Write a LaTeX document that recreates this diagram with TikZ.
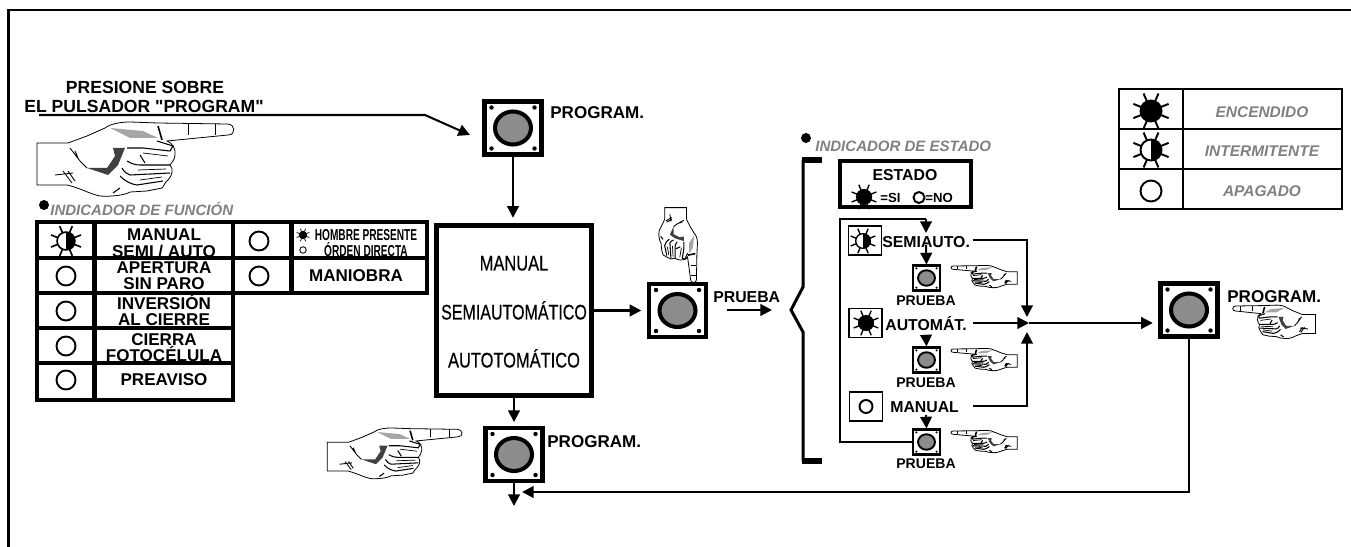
\documentclass[tikz,border=0pt]{standalone}
\usepackage{xcolor}
\usepackage{fontspec}
\setmainfont{Liberation Sans}[Ligatures=TeXOff]
\newfontfamily\modofont{Liberation Sans}[FakeBold=0.5]
\usetikzlibrary{arrows.meta}

\definecolor{grisindicador}{HTML}{808080}
\definecolor{grisboton}{HTML}{8C8C8C}

\tikzset{
  rotulo/.style={inner sep=0pt,text height=6.6pt,text depth=0pt,font=\fontsize{9.7}{10}\selectfont\bfseries},
  titulo/.style={rotulo,font=\fontsize{10}{11}\selectfont\bfseries},
  chico/.style={rotulo,font=\fontsize{8}{9}\selectfont\bfseries},
  medio/.style={rotulo,font=\fontsize{9}{10}\selectfont\bfseries},
  mini/.style={rotulo,font=\fontsize{7.5}{8}\selectfont\bfseries,text height=5pt},
  modo/.style={inner sep=0pt,text height=8.5pt,text depth=0pt,font=\fontsize{12}{13}\modofont},
  gris/.style={inner sep=0pt,text height=6.2pt,text depth=0pt,text=grisindicador,font=\fontsize{8.8}{10}\selectfont\bfseries\itshape},
  grisind/.style={gris,font=\fontsize{8.55}{10}\selectfont\bfseries\itshape},
  apagado/.style={circle,draw,line width=1.1pt,inner sep=0pt,minimum size=0.38cm},
  punto/.style={circle,fill=black,inner sep=0pt,minimum size=0.2cm},
  icono/.style={draw,line width=0.6pt,inner sep=0pt,minimum width=0.66cm,minimum height=0.58cm},
  flecha/.style={line width=1.15pt,-{Triangle[width=6.6pt,length=6.6pt]}},
  linea/.style={line width=1.15pt},
  tabla/.style={line width=2.3pt},
  pics/boton/.style n args={2}{code={
    \node[draw,line width=#2,fill=white,inner sep=0pt,minimum width=#1*1.14cm,minimum height=#1*1.06cm] (-caja) {};
    \draw[line width=#1*2.3pt,fill=grisboton] (0,0) ellipse ({#1*18} and {#1*16.5});
    \foreach \sx in {-1,1} \foreach \sy in {-1,1}
      \fill ({\sx*#1*21.5},{\sy*#1*20.5}) circle ({#1*1.9+0.3});
  }},
  pics/foco/.style n args={2}{code={
    \foreach \ang in {22,67,113,158,202,247,293,338}
      \draw[line width=#1*1.1pt] ({\ang}:{#1*10}) -- ({\ang}:{#1*19});
    \draw[line width=#1*1.1pt,fill=white] (0,0) circle ({#1*10.5});
    \fill (0,{#1*10.5}) arc (90:#2:{#1*10.5}) -- cycle;
  }},
  pics/mano/.style={code={
    \draw[line width=0.45pt,fill=white] (-1,-1) -- (30,-1) -- (49,-8) -- (67,-16)
      .. controls (72,-20) and (82,-22) .. (92,-22) -- (120,-21) -- (189,-20)
      .. controls (198,-20) and (198,-9) .. (190,-9) -- (129,-3)
      .. controls (135,-1) and (138,6) .. (137,11) .. controls (137,16) and (133,19) .. (132,21)
      .. controls (136,25) and (134,32) .. (130,36) .. controls (127,38) and (126,42) .. (124,44)
      -- (109,47) -- (92,48) .. controls (88,51) and (72,53) .. (62,52)
      .. controls (52,50) and (42,44) .. (29,41) -- (-1,41) -- cycle;
    \fill[gray!70] (72,-16) -- (105,-13) -- (120,-6) -- (92,-6) -- cycle;
    \fill[black!75] (75,4) -- (87,4) -- (80,21) -- (70,31) -- (49,24) -- (69,24) -- (77,12) -- cycle;
    \draw[line width=0.35pt] (150,-20) -- (150,-9) (177,-20) -- (177,-9);
    \draw[line width=0.9pt] (120,-18) -- (124,-4);
    \draw[line width=0.6pt] (119,-3) -- (135,2) -- (132,7) -- (105,4) -- (89,4);
    \draw[line width=0.6pt] (89,17) .. controls (94,20) and (98,21) .. (102,21) -- (132,21)
      (84,24) .. controls (86,28) and (89,30) .. (92,31) -- (132,29)
      (82,32) .. controls (88,38) and (93,40) .. (99,41) -- (125,37)
      (102,11) -- (107,19) (75,49) -- (82,44);
    \draw[line width=0.4pt] (105,9) -- (130,12) (100,26) -- (128,25) (102,36) -- (124,33);
    \draw[line width=0.5pt] (32,4) -- (42,17) -- (49,24) (37,7) -- (40,14)
      (17,31) -- (35,29) (25,27) -- (34,39) (30,27) -- (37,37);
  }}
}

\begin{document}
\begin{tikzpicture}[x=0.02cm,y=-0.02cm]
  \useasboundingbox (0,0) rectangle (1351,547);

  % marco
  \draw[line width=1.7pt] (1351,10) -- (8.5,10) -- (8.5,547);

  % pulsador principal
  \node[titulo] (presione) at (145,88) {PRESIONE SOBRE};
  \node[titulo] (pulsador) at (144,107) {EL PULSADOR "PROGRAM"};
  \pic at (38,144) {mano};
  \pic (prog1) at (513,128) {boton={1}{2.8pt}};
  \pic (prog3) at (514,454.5) {boton={1}{2.8pt}};
  \pic (prob1) at (677.5,310.5) {boton={1}{2.8pt}};
  \pic (prog4) at (1189,310) {boton={1}{2.8pt}};
  \node[rotulo,anchor=west] (progtxt1) at (550,113) {PROGRAM.};
  \node[rotulo,anchor=west] (progtxt3) at (547,442) {PROGRAM.};
  \node[rotulo,anchor=west] (progtxt4) at (1227,297) {PROGRAM.};
  \node[medio,anchor=west] (probtxt1) at (713,297) {PRUEBA};
  \pic[scale=0.684] at (328,443) {mano};
  \pic[rotate=-90,xscale=0.38,yscale=0.52] at (686,208) {mano};
  \pic[xscale=-0.42,yscale=0.45] at (1315,315) {mano};

  \coordinate (inicio) at (39,115);
  \coordinate (codo) at (425,115);
  \coordinate (destino) at (470,135);
  \draw[flecha] (inicio) -- (codo) -- (destino);

  % indicador de funcion
  \node[punto] (puntofun) at (44,205) {};
  \node[grisind,anchor=west] (indfun) at (50,210) {INDICADOR DE FUNCIÓN};
  \node[rotulo] (semi1) at (164,235) {MANUAL};
  \node[rotulo] (semi2) at (164,252) {SEMI / AUTO};
  \node[rotulo] (aper1) at (164,268) {APERTURA};
  \node[rotulo] (aper2) at (164,284) {SIN PARO};
  \node[rotulo] (inve1) at (164,304) {INVERSIÓN};
  \node[rotulo] (inve2) at (164,320) {AL CIERRE};
  \node[rotulo] (foto1) at (164,340) {CIERRA};
  \node[rotulo] (foto2) at (164,356) {FOTOCÉLULA};
  \node[rotulo] (prea) at (164,380) {PREAVISO};
  \node[rotulo] (maniobra) at (356,276) {MANIOBRA};
  \node[medio] (hombre) at (366,235) {\scalebox{0.64}[1]{HOMBRE PRESENTE}};
  \node[medio] (orden) at (366,251) {\scalebox{0.64}[1]{ÓRDEN DIRECTA}};
  \draw[tabla] (37,222) rectangle (233,400);
  \draw[tabla] (233,222) rectangle (427,293);
  \draw[tabla] (94.5,222) -- (94.5,400) (291.5,222) -- (291.5,293);
  \draw[tabla] (37,258) -- (427,258) (37,293) -- (427,293);
  \draw[tabla] (37,328) -- (233,328) (37,363) -- (233,363);
  \pic at (66,241) {foco={0.85}{-90}};
  \foreach \fila/\alto in {a/276,b/311,c/346,d/380}
    \node[apagado] (fun\fila) at (66,\alto) {};
  \node[apagado] (fune) at (259,241) {};
  \node[apagado] (funf) at (259,276) {};
  \pic at (303,235) {foco={0.36}{-270}};
  \node[apagado,line width=0.5pt,minimum size=0.13cm] (fung) at (303,250) {};

  % modos
  \node[draw,line width=2.8pt,minimum width=3.1cm,minimum height=3.4cm,inner sep=0pt] (modos) at (514,310.5) {};
  \node[modo] (modoman) at (514,263) {\scalebox{0.78}[1]{MANUAL}};
  \node[modo] (modosemi) at (514,312) {\scalebox{0.76}[1]{SEMIAUTOMÁTICO}};
  \node[modo] (modoauto) at (514,360) {\scalebox{0.78}[1]{AUTOTOMÁTICO}};

  \draw[flecha,shorten >=3pt] (prog1-caja.south) -- (prog1-caja.south |- modos.north);
  \draw[flecha,shorten >=2pt] (modos.south) -- (prog3-caja.north);
  \draw[flecha,shorten >=3pt] (modos.east |- prob1-caja.center) -- (prob1-caja.west);
  \coordinate (salidaprog) at (514,506);
  \draw[flecha] (prog3-caja.south) -- (salidaprog);
  \coordinate (prueba1) at (727,310);
  \coordinate (prueba2) at (772,310);
  \draw[flecha] (prueba1) -- (prueba2);
  \coordinate (retorno) at (522,492);
  \draw[flecha] (prog4-caja.south) |- (retorno);

  % llave
  \draw[line width=1.7pt] (803,160) -- (803,287) -- (791,310) -- (803,332) -- (803,461);
  \draw[line width=3.2pt] (802,160) -- (822,160) (802,461) -- (822,461);

  % indicador de estado
  \node[punto] (puntoest) at (806,138) {};
  \node[grisind,anchor=west] (indest) at (815,146) {INDICADOR DE ESTADO};
  \node[draw,line width=2.3pt,minimum width=2.62cm,minimum height=0.92cm,inner sep=0pt] (estado) at (905.5,184) {};
  \node[medio] (estadotxt) at (905,175) {ESTADO};
  \pic at (864,197) {foco={0.7}{-270}};
  \node[mini,anchor=west] (si) at (880,198) {=SI};
  \node[apagado,minimum size=0.22cm] (no) at (919,197.5) {};
  \node[mini,anchor=west] (notxt) at (925,198) {=NO};

  % pasos de estado
  \node[icono] (icosemi) at (865,240.5) {};
  \node[icono] (icoauto) at (865.5,323) {};
  \node[icono] (icoman) at (866,406.5) {};
  \pic at (863,241) {foco={0.7}{-90}};
  \pic at (866,323) {foco={0.7}{-270}};
  \node[apagado,minimum size=0.26cm] (offman) at (866,406.5) {};
  \pic (prob2) at (926.5,278) {boton={0.47}{1.3pt}};
  \pic (prob3) at (926.5,360) {boton={0.47}{1.3pt}};
  \pic (prob4) at (926.5,442) {boton={0.47}{1.3pt}};
  \foreach \fila/\alto in {2/300,3/382,4/463}
    \node[chico] (probtxt\fila) at (926,\alto) {PRUEBA};
  \foreach \alto in {272,355,437}
    \pic[xscale=-0.337,yscale=0.3] at (1017,\alto) {mano};

  \node[medio,anchor=west] (semitxt) at (882,242) {SEMIAUTO.};
  \node[medio,anchor=west] (autotxt) at (885,325) {AUTOMÁT.};
  \node[medio,anchor=west] (mantxt) at (890,407) {MANUAL};

  \coordinate (lazo1) at (840,219);
  \coordinate (lazo2) at (926,219);
  \coordinate (lazo3) at (926,233);
  \coordinate (union) at (1029,323);
  \draw[linea] (prob4-caja.west) -| (lazo1) -- (lazo2);
  \draw[flecha] (lazo2) -- (lazo3);
  \draw[flecha] (926,245) -- (prob2-caja.north);
  \draw[flecha] (926,335) -- (prob3-caja.north);
  \draw[flecha] (926,415) -- (prob4-caja.north);

  \coordinate (semisale) at (973,240);
  \coordinate (autosale) at (973,323);
  \coordinate (mansale) at (973,406);
  \coordinate (semicodo) at (1027,240);
  \coordinate (mancodo) at (1027,406);
  \coordinate (semifin) at (1027,317);
  \coordinate (manfin) at (1027,332);
  \draw[flecha] (semisale) -- (semicodo) -- (semifin);
  \draw[flecha] (mansale) -- (mancodo) -- (manfin);
  \draw[flecha] (autosale) -- (union);
  \draw[flecha,shorten >=3pt] (union) -- (union -| prog4-caja.west);

  % leyenda
  \draw[line width=1.5pt] (1119,89) rectangle (1342,209);
  \draw[line width=1.5pt] (1183,89) -- (1183,209) (1119,129) -- (1342,129) (1119,169) -- (1342,169);
  \pic at (1151,111) {foco={1}{-270}};
  \pic at (1151,150) {foco={1}{-90}};
  \node[apagado,minimum size=0.42cm] (leyapa) at (1151,191) {};
  \node[gris] (encendido) at (1262,112) {ENCENDIDO};
  \node[gris] (intermitente) at (1262,151) {INTERMITENTE};
  \node[gris] (apagadotxt) at (1262,191) {APAGADO};
\end{tikzpicture}
\end{document}
